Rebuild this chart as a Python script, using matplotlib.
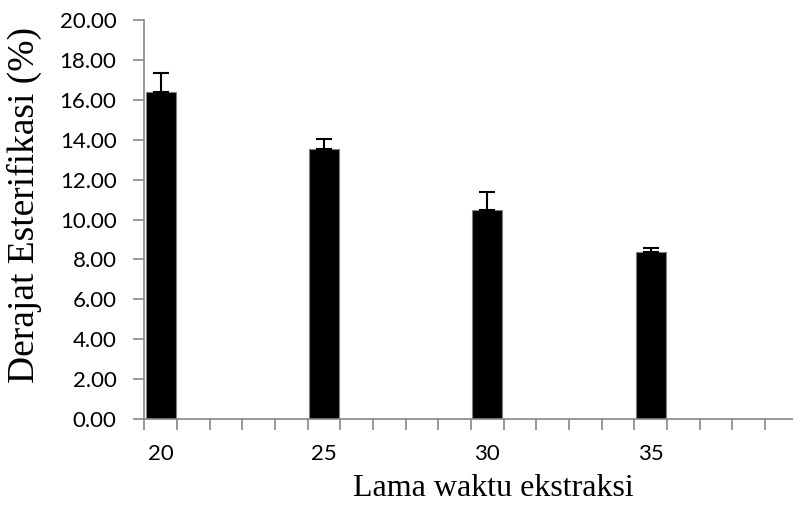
import numpy as np
import matplotlib.pyplot as plt
from matplotlib.ticker import FixedLocator

# data
waktu = [20, 25, 30, 35]
derajat = [16.38, 13.52, 10.46, 8.36]
err_atas = [0.95, 0.52, 0.93, 0.21]

y_ticks = np.arange(0, 20.01, 2)
x_labels = ["20", "25", "30", "35"]

fig = plt.figure(figsize=(7.93, 5.08), dpi=100)
ax = fig.add_axes([0.182, 0.1752, 0.8238, 0.7854])

ax.bar(waktu, derajat, width=0.92, color="black", edgecolor="#808080", linewidth=0.8, zorder=2)
ax.errorbar(waktu, derajat, yerr=[np.zeros(len(err_atas)), err_atas], fmt="none",
            ecolor="black", elinewidth=1.5, capsize=5.8, capthick=1.5, zorder=3)

ax.set_xlim(19.5, 39.5)
ax.set_ylim(0, 20)

ax.set_yticks(y_ticks)
ax.set_yticklabels([f"{v:.2f}" for v in y_ticks], family="Lato", fontsize=16)
ax.set_xticks(waktu)
ax.set_xticklabels(x_labels, family="Lato", fontsize=16)
ax.xaxis.set_minor_locator(FixedLocator(np.arange(19.5, 40, 1.0)))

ax.tick_params(axis="x", which="major", length=0, pad=18)
ax.tick_params(axis="x", which="minor", length=8, width=1.2, color="#888888", direction="out")
ax.tick_params(axis="y", which="major", length=8, width=1.2, color="#888888", direction="out", pad=12)

for s in ["top", "right"]:
    ax.spines[s].set_visible(False)
for s in ["left", "bottom"]:
    ax.spines[s].set_color("#888888")
    ax.spines[s].set_linewidth(1.2)

ax.set_ylabel("Derajat Esterifikasi (%)", family="Liberation Serif", fontsize=27, va="center")
ax.yaxis.set_label_coords(-0.183, 0.536)
ax.set_xlabel("Lama waktu ekstraksi", family="Liberation Serif", fontsize=23, va="center")
ax.xaxis.set_label_coords(0.534, -0.175)

fig.savefig("out.png", dpi=100)
